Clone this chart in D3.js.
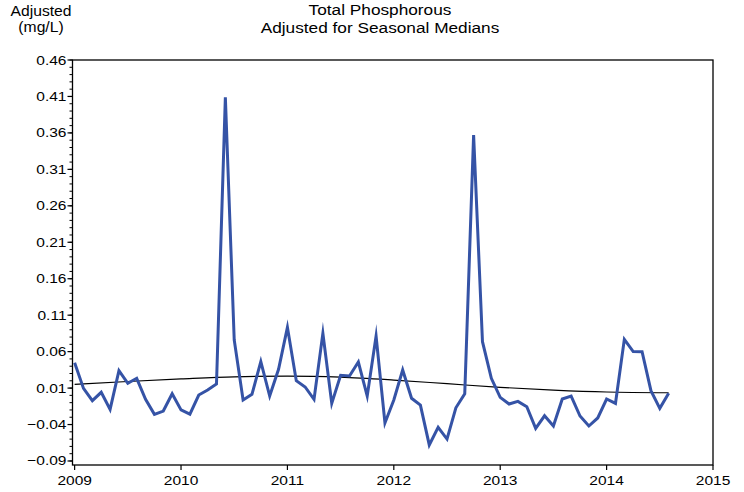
<!DOCTYPE html>
<html><head><meta charset="utf-8">
<script src="https://cdn.jsdelivr.net/npm/d3@7"></script>
<style>
body{margin:0;background:#fff;}
svg text{font-family:"Liberation Sans",Arial,sans-serif;fill:#000;}
</style></head>
<body><svg id="c" width="744" height="492"></svg>
<script>
const startYear = 2009;
const months = d3.range(68).map(i => startYear + i / 12);
const adjusted = [
 0.0448, 0.0096, -0.0073, 0.0042, -0.0192, 0.0338, 0.0165, 0.0234, -0.0055, -0.0260, -0.0215, 0.0022,
 -0.0200, -0.0258, 0.0005, 0.0073, 0.0156, 0.4090, 0.0760, -0.0064, 0.0014, 0.0462, -0.0009, 0.0357,
 0.0933, 0.0201, 0.0115, -0.0055, 0.0850, -0.0110, 0.0275, 0.0266, 0.0457, -0.0009, 0.0814, -0.0378,
 -0.0064, 0.0348, -0.0040, -0.0133, -0.0680, -0.0439, -0.0599, -0.0170, 0.0022, 0.3570, 0.0736, 0.0234,
 -0.0027, -0.0119, -0.0082, -0.0156, -0.0452, -0.0280, -0.0420, -0.0050, -0.0009, -0.0283, -0.0420, -0.0310,
 -0.0050, -0.0110, 0.0769, 0.0600, 0.0599, 0.0064, -0.0178, 0.0028
];
const trendYears = [2009.0, 2009.5, 2010.0, 2010.5, 2011.0, 2011.5, 2012.0, 2012.5, 2013.0, 2013.5, 2014.0, 2014.583];
const trendValues = [0.0150, 0.0190, 0.0225, 0.0255, 0.0265, 0.0250, 0.0210, 0.0160, 0.0110, 0.0072, 0.0046, 0.0036];
const yearTicks = [2009, 2010, 2011, 2012, 2013, 2014, 2015];
const yTicks = [0.46, 0.41, 0.36, 0.31, 0.26, 0.21, 0.16, 0.11, 0.06, 0.01, -0.04, -0.09];
const titleLines = ["Total Phosphorous", "Adjusted for Seasonal Medians"];
const yTitleLines = ["Adjusted", "(mg/L)"];

const svg = d3.select("#c");
const L = 72.5, R = 713, T = 60, B = 465;
const SX = 1.15;
const x = d3.scaleLinear().domain([2008.98, 2015.0]).range([L, R]);
const y = d3.scaleLinear().domain([-0.0955, 0.46]).range([B, T]);

svg.append("rect").attr("x", L).attr("y", T).attr("width", R - L).attr("height", B - T)
  .attr("fill", "none").attr("stroke", "#000").attr("stroke-width", 1.3);

const minor = d3.range(-90, 461, 10).map(v => v / 1000);
const ya = svg.append("g").attr("transform", `translate(${L},0)`);
ya.selectAll("line.mn").data(minor).join("line").attr("class", "mn")
  .attr("x1", -3).attr("x2", 0).attr("y1", d => y(d)).attr("y2", d => y(d))
  .attr("stroke", "#000").attr("stroke-width", 1);
ya.selectAll("line.mj").data(yTicks).join("line").attr("class", "mj")
  .attr("x1", -5).attr("x2", 0).attr("y1", d => y(d)).attr("y2", d => y(d))
  .attr("stroke", "#000").attr("stroke-width", 1.2);
ya.selectAll("text").data(yTicks).join("text")
  .attr("transform", d => `translate(-6,${y(d) + 4.5}) scale(${SX},1)`)
  .attr("text-anchor", "end").style("font-size", "13.5px").text(d => d3.format(".2f")(d));

const xa = svg.append("g").attr("transform", `translate(0,${B})`);
xa.selectAll("line").data(yearTicks).join("line")
  .attr("x1", d => x(d)).attr("x2", d => x(d)).attr("y1", 0).attr("y2", 5)
  .attr("stroke", "#000").attr("stroke-width", 1.2);
xa.selectAll("text").data(yearTicks).join("text")
  .attr("transform", d => `translate(${x(d)},20) scale(${SX},1)`)
  .attr("text-anchor", "middle").style("font-size", "13.5px").text(d => d);

const trend = d3.line().x((d, i) => x(trendYears[i])).y(d => y(d)).curve(d3.curveMonotoneX);
svg.append("path").attr("d", trend(trendValues)).attr("fill", "none")
  .attr("stroke", "#000").attr("stroke-width", 1.2);

const line = d3.line().x((d, i) => x(months[i])).y(d => y(d));
svg.append("path").attr("d", line(adjusted)).attr("fill", "none")
  .attr("stroke", "#3553a6").attr("stroke-width", 3).attr("stroke-linejoin", "miter").attr("stroke-miterlimit", 20);

svg.selectAll("text.t").data(titleLines).join("text").attr("class", "t")
  .attr("transform", (d, i) => `translate(380,${15 + i * 18}) scale(${SX},1)`)
  .attr("text-anchor", "middle").style("font-size", "15px").text(d => d);
svg.selectAll("text.yt").data(yTitleLines).join("text").attr("class", "yt")
  .attr("transform", (d, i) => `translate(41,${16 + i * 16}) scale(1.12,1)`)
  .attr("text-anchor", "middle").style("font-size", "14px").text(d => d);
</script></body></html>
